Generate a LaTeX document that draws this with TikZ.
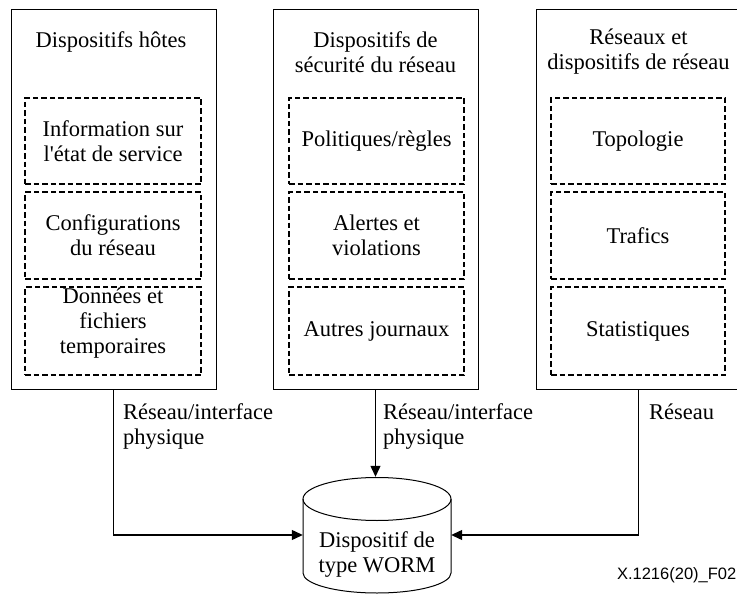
\documentclass[tikz,border=0pt]{standalone}
\usepackage{fontspec}
\setmainfont{Liberation Serif}
\newfontfamily\arialfont{Liberation Sans}
\usetikzlibrary{arrows.meta}
\tikzset{
  outerbox/.style={draw=black, line width=1pt, minimum width=205pt, minimum height=379pt, inner sep=0pt},
  dbox/.style={draw=black, line width=1.3pt, dash pattern=on 5.5pt off 3pt, inner sep=0pt},
  txt/.style={align=center, inner sep=0pt, font=\fontsize{22.5}{25}\selectfont},
  lbl/.style={align=left, inner sep=0pt, font=\fontsize{22.5}{25}\selectfont},
  arr/.style={line width=1.2pt, -{Triangle[length=11pt,width=10pt]}},
}
\begin{document}
\begin{tikzpicture}[x=1pt,y=-1pt]
\useasboundingbox (0,0) rectangle (737,594);
\clip (0,0) rectangle (737,594);
% outer boxes
\node[outerbox] (hosts) at (113.5,199.5) {};
\node[outerbox] (sec) at (375.5,199.5) {};
\node[outerbox] (net) at (638.5,199.5) {};
% titles
\node[txt] (t1) at (111,42) {Dispositifs hôtes};
\node[txt] (t2) at (375.5,52) {Dispositifs de\\sécurité du réseau};
\node[txt] (t3) at (638.5,52) {Réseaux et\\dispositifs de réseau};
% dashed inner boxes
\node[dbox, minimum width=176pt, minimum height=86pt] (h1) at (113,141) {};
\node[dbox, minimum width=176pt, minimum height=87pt] (h2) at (113,235.5) {};
\node[dbox, minimum width=176pt, minimum height=88pt] (h3) at (113,331) {};
\node[dbox, minimum width=175pt, minimum height=86pt] (s1) at (376.5,141) {};
\node[dbox, minimum width=175pt, minimum height=87pt] (s2) at (376.5,235.5) {};
\node[dbox, minimum width=175pt, minimum height=88pt] (s3) at (376.5,331) {};
\node[dbox, minimum width=174pt, minimum height=86pt] (n1) at (638,141) {};
\node[dbox, minimum width=174pt, minimum height=87pt] (n2) at (638,235.5) {};
\node[dbox, minimum width=174pt, minimum height=88pt] (n3) at (638,331) {};
% inner texts
\node[txt] (h1t) at (h1) {Information sur\\l\textquotesingle état de service};
\node[txt] (h2t) at (h2) {Configurations\\du réseau};
\node[txt] (h3t) at (113,323) {Données et\\fichiers\\temporaires};
\node[txt] (s1t) at (s1) {Politiques/règles};
\node[txt] (s2t) at (s2) {Alertes et\\violations};
\node[txt] (s3t) at (s3) {Autres journaux};
\node[txt] (n1t) at (n1) {Topologie};
\node[txt] (n2t) at (n2) {Trafics};
\node[txt] (n3t) at (n3) {Statistiques};
% cylinder
\node[minimum width=148pt, minimum height=116pt, inner sep=0pt] (worm) at (377,535) {};
\draw[line width=1pt] (377,499) ellipse [x radius=74pt, y radius=21.5pt];
\draw[line width=1pt] (303,499) -- (303,573) arc[start angle=180, end angle=360, x radius=74pt, y radius=20pt] -- (451,499);
\node[txt] (wormt) at (377,555) {Dispositif de\\type WORM};
% connectors
\draw[arr] (hosts.south) |- (worm.west);
\draw[arr] (sec.south) -- (sec.south |- worm.north);
\draw[arr] (net.south) |- (worm.east);
% labels
\node[lbl, anchor=base west] (l1) at (123,444) {Réseau/interface\\physique};
\node[lbl, anchor=base west] (l2) at (383,444) {Réseau/interface\\physique};
\node[lbl, anchor=base west] (l3) at (649,419) {Réseau};
\node[anchor=base east, inner sep=0pt, font=\arialfont\fontsize{16.5}{18}\selectfont] (fig) at (736.5,579) {X.1216(20)\_F02};
\end{tikzpicture}
\end{document}
